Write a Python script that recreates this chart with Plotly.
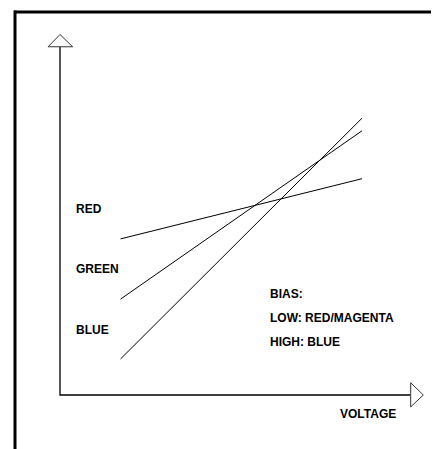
import plotly.graph_objects as go

# Data (abstract units: voltage on x, response on y)
series_names = ["RED", "GREEN", "BLUE"]
voltage = [1.73, 8.63]
red_values = [4.46, 6.18]
green_values = [2.74, 7.55]
blue_values = [1.03, 7.91]
label_y = [5.31, 3.60, 1.86]
bias_lines = ["BIAS:", "LOW: RED/MAGENTA", "HIGH: BLUE"]
bias_y = [2.89, 2.20, 1.52]
axis_max = 10

# page has an 8px body margin; figure fills the rest of the window
OFF = 8
W, H = 439 - OFF, 449 - OFF
FONT = dict(family="Liberation Sans, Arial, sans-serif", size=12, color="#000000")

fig = go.Figure()
for vals in (red_values, green_values, blue_values):
    fig.add_trace(go.Scatter(x=voltage, y=vals, mode="lines",
                             line=dict(color="#000000", width=1),
                             hoverinfo="skip", showlegend=False))

# axes lines
fig.add_trace(go.Scatter(x=[0, 0, axis_max], y=[axis_max - 0.05, 0, 0], mode="lines",
                         line=dict(color="#000000", width=1.3),
                         hoverinfo="skip", showlegend=False))

shapes = []
# arrow heads
shapes.append(dict(type="path", xref="x", yref="y",
                   path=f"M -0.34 {axis_max - 0.05} L 0 {axis_max + 0.3} L 0.36 {axis_max - 0.05} Z",
                   fillcolor="white", line=dict(color="#333333", width=1)))
shapes.append(dict(type="path", xref="x", yref="y",
                   path=f"M {axis_max + 0.02} 0.35 L {axis_max + 0.38} 0 L {axis_max + 0.02} -0.34 Z",
                   fillcolor="white", line=dict(color="#333333", width=1)))
# frame (top and left)
shapes.append(dict(type="line", xref="paper", yref="paper",
                   x0=(14 - OFF) / W, x1=1.1, y0=1 - (12 - OFF) / H, y1=1 - (12 - OFF) / H,
                   line=dict(color="#000000", width=3)))
shapes.append(dict(type="line", xref="paper", yref="paper",
                   x0=(15 - OFF) / W, x1=(15 - OFF) / W, y0=1 - (10.5 - OFF) / H, y1=-0.1,
                   line=dict(color="#000000", width=3)))

annotations = []
for name, yy in zip(series_names, label_y):
    annotations.append(dict(x=0.41, y=yy, xref="x", yref="y", text=f"<b>{name}</b>",
                            showarrow=False, xanchor="left", yanchor="middle", font=FONT))
for t, yy in zip(bias_lines, bias_y):
    annotations.append(dict(x=5.95, y=yy, xref="x", yref="y", text=f"<b>{t}</b>",
                            showarrow=False, xanchor="left", yanchor="middle", font=FONT))
annotations.append(dict(x=8.8, y=-0.54, xref="x", yref="y", text="<b>VOLTAGE</b>",
                        showarrow=False, xanchor="center", yanchor="middle", font=FONT))

fig.update_layout(
    width=W, height=H,
    margin=dict(l=0, r=0, t=0, b=0),
    paper_bgcolor="white", plot_bgcolor="white",
    xaxis=dict(range=[-(60 - OFF) / 35, (439 - 60) / 35], visible=False, fixedrange=True),
    yaxis=dict(range=[(395 - 449) / 35, (395 - OFF) / 35], visible=False, fixedrange=True),
    shapes=shapes, annotations=annotations, showlegend=False,
)

fig.write_html("out.html", config={"displayModeBar": False})
